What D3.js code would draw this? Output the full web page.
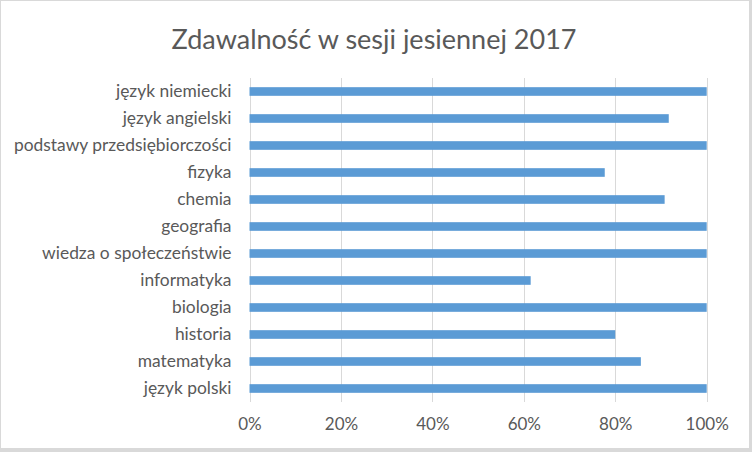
<!DOCTYPE html>
<html>
<head>
<meta charset="utf-8">
<script src="https://cdn.jsdelivr.net/npm/d3@7"></script>
<style>
  body { margin: 0; background: #fff; }
  svg { display: block; }
</style>
</head>
<body>
<svg id="chart"></svg>
<script>
const title = 'Zdawalność w sesji jesiennej 2017';
const subjects = [
  'język niemiecki',
  'język angielski',
  'podstawy przedsiębiorczości',
  'fizyka',
  'chemia',
  'geografia',
  'wiedza o społeczeństwie',
  'informatyka',
  'biologia',
  'historia',
  'matematyka',
  'język polski',
];
const passRates = [1.0, 0.917, 1.0, 0.777, 0.908, 1.0, 1.0, 0.615, 1.0, 0.8, 0.856, 1.0];
const xTicks = [0, 0.2, 0.4, 0.6, 0.8, 1.0];

const width = 752;
const height = 452;
const margin = { left: 249.5, right: 45.3, top: 78, bottom: 50 };
const font = 'Lato, "Open Sans", sans-serif';

const data = subjects.map((name, i) => ({ name, value: passRates[i] }));

const svg = d3.select('#chart').attr('width', width).attr('height', height);

// frame
svg.append('rect').attr('width', width).attr('height', height).attr('fill', '#d9d9d9');
svg.append('rect').attr('x', 1).attr('y', 1).attr('width', 748).attr('height', 447).attr('fill', '#fff');

const x = d3
  .scaleLinear()
  .domain([0, 1])
  .range([margin.left, width - margin.right]);
const y = d3
  .scaleBand()
  .domain(subjects)
  .range([margin.top, 402])
  .paddingInner(0.68)
  .paddingOuter(0.34);

// gridlines
svg
  .append('g')
  .selectAll('line')
  .data(xTicks)
  .enter()
  .append('line')
  .attr('x1', (d) => Math.round(x(d)) + 0.5)
  .attr('x2', (d) => Math.round(x(d)) + 0.5)
  .attr('y1', margin.top)
  .attr('y2', 402)
  .attr('stroke', '#d9d9d9')
  .attr('stroke-width', 1);

// bars
svg
  .selectAll('.bar')
  .data(data)
  .enter()
  .append('rect')
  .attr('class', 'bar')
  .attr('x', x(0))
  .attr('y', (d) => y(d.name))
  .attr('width', (d) => x(d.value) - x(0))
  .attr('height', y.bandwidth())
  .attr('fill', '#5b9bd5');

// category labels
const yAxis = svg
  .append('g')
  .attr('transform', `translate(${margin.left}, 0)`)
  .call(d3.axisLeft(y).tickSize(0).tickPadding(18));
yAxis.select('.domain').remove();
yAxis
  .selectAll('text')
  .attr('fill', '#595959')
  .style('font-family', font)
  .style('font-size', '17.4px');

// value axis
const xAxis = svg
  .append('g')
  .attr('transform', `translate(0, 402)`)
  .call(d3.axisBottom(x).tickValues(xTicks).tickFormat(d3.format('.0%')).tickSize(0).tickPadding(16));
xAxis.select('.domain').remove();
xAxis
  .selectAll('text')
  .attr('fill', '#595959')
  .style('font-family', font)
  .style('font-size', '17px');

svg
  .append('text')
  .attr('x', 374)
  .attr('y', 49)
  .attr('text-anchor', 'middle')
  .attr('fill', '#595959')
  .style('font-family', font)
  .style('font-size', '27px')
  .text(title);
</script>
</body>
</html>
